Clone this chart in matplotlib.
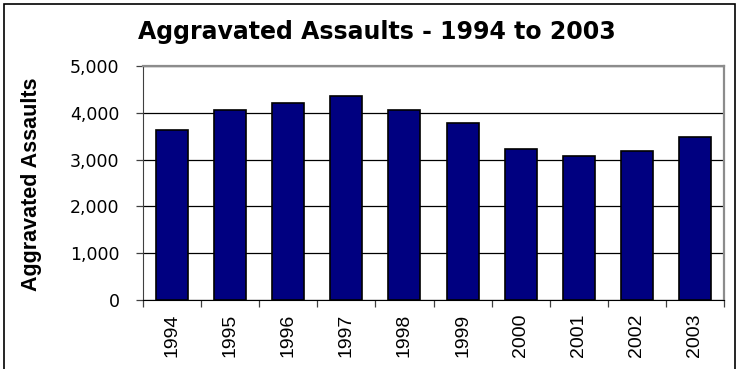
import matplotlib
matplotlib.use("Agg")
import matplotlib.pyplot as plt
from matplotlib.patches import Rectangle
import numpy as np

# yearly counts of aggravated assaults
years = ["1994", "1995", "1996", "1997", "1998", "1999", "2000", "2001", "2002", "2003"]
assaults = [3630, 4070, 4220, 4360, 4070, 3780, 3220, 3080, 3190, 3480]
y_ticks = [0, 1000, 2000, 3000, 4000, 5000]

arial = ["Liberation Sans", "DejaVu Sans"]
wide = ["DejaVu Sans"]

W, H = 739, 369
fig = plt.figure(figsize=(W / 100, H / 100), dpi=100)
ax = fig.add_axes([143 / W, 1 - 300 / H, 581 / W, 234 / H])

x = np.arange(len(years))
ax.bar(x, assaults, width=0.55, color="#000080", edgecolor="black", linewidth=1.2, zorder=3)

ax.set_xlim(-0.5, len(years) - 0.5)
ax.set_ylim(0, 5000)
ax.set_yticks(y_ticks)
ax.set_yticklabels([f"{v:,}" for v in y_ticks], family=wide, fontsize=12.5)
ax.yaxis.grid(True, color="black", linewidth=0.9, zorder=1)

# year labels sit under the bars, tick marks go between them
ax.set_xticks(x)
ax.set_xticklabels(years, rotation=90, family=arial, fontsize=14)
ax.set_xticks(np.arange(len(years) + 1) - 0.5, minor=True)
ax.tick_params(axis="x", which="major", length=0, pad=10)
ax.tick_params(axis="x", which="minor", length=5, width=0.9, direction="out", color="#404040")
ax.tick_params(axis="y", length=5, width=0.9, direction="out", color="#404040", pad=12)

for side in ("top", "right"):
    ax.spines[side].set_color("#8c8c8c")
    ax.spines[side].set_linewidth(1.6)
ax.spines["left"].set_color("#404040")
ax.spines["bottom"].set_color("black")

fig.text(32 / W, 1 - 184 / H, "Aggravated Assaults", rotation=90, ha="center", va="center",
         family=arial, fontsize=15.5, fontweight="bold")
fig.text(377 / W, 1 - 38.5 / H, "Aggravated Assaults - 1994 to 2003", ha="center", va="baseline",
         family=wide, fontsize=17, fontweight="bold")

# outer frame around the chart, open at the bottom edge
fig.patches.append(Rectangle((4 / W, -4 / H), 731 / W, 369 / H, transform=fig.transFigure,
                             fill=False, edgecolor="black", linewidth=1.2))

fig.savefig("out.png", dpi=100)
